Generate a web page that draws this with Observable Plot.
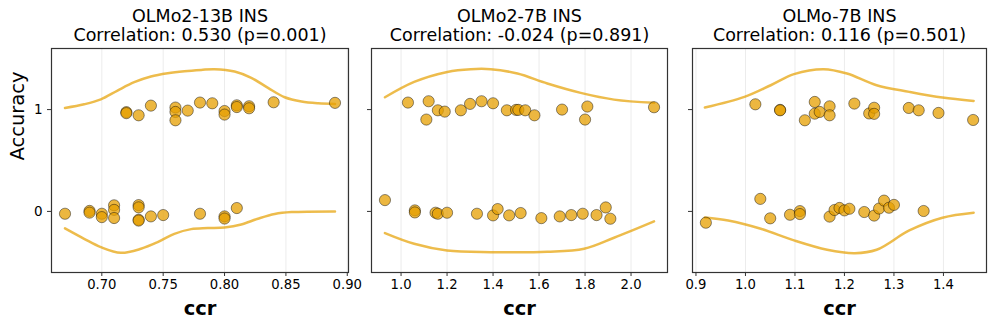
<!DOCTYPE html>
<html>
<head>
<meta charset="utf-8">
<script src="https://cdn.jsdelivr.net/npm/d3@7"></script>
<script src="https://cdn.jsdelivr.net/npm/@observablehq/plot@0.6"></script>
<style>
  body { margin: 0; background: #fff; }
  #chart { position: relative; width: 996px; height: 327px; }
  #chart svg { position: absolute; top: 0; }
</style>
</head>
<body>
<div id="chart"></div>
<script>
// ---------- Panel 1: OLMo2-13B INS ----------
const p1Title = ["OLMo2-13B INS", "Correlation: 0.530 (p=0.001)"];
const p1Ccr = [0.72,0.72,0.73,0.74,0.76,0.76,0.76,0.77,0.78,0.79,0.80,0.80,0.81,0.81,0.82,0.82,0.84,0.89,
               0.67,0.69,0.69,0.70,0.70,0.71,0.71,0.71,0.73,0.73,0.73,0.73,0.74,0.75,0.78,0.80,0.80,0.81];
const p1Acc = [0.975,0.965,0.944,1.039,1.02,0.977,0.895,0.99,1.069,1.062,0.986,0.951,1.042,1.025,1.033,1.013,1.072,1.066,
               -0.023,0.005,-0.012,-0.023,-0.056,0.060,0.015,-0.065,0.062,0.040,-0.082,-0.090,-0.049,-0.036,-0.023,-0.049,-0.070,0.033];
const p1UpperX = [0.67,0.6856,0.6992,0.7128,0.7264,0.740,0.7537,0.7673,0.781,0.7918,0.8082,0.8218,0.8354,0.849,0.8627,0.8763,0.89];
const p1UpperY = [1.016,1.052,1.10,1.187,1.269,1.325,1.357,1.377,1.390,1.397,1.374,1.312,1.213,1.121,1.079,1.062,1.056];
const p1LowerX = [0.67,0.6856,0.6992,0.7155,0.7319,0.7455,0.7591,0.7728,0.7864,0.80,0.8136,0.8272,0.8409,0.8545,0.89];
const p1LowerY = [-0.167,-0.269,-0.351,-0.407,-0.367,-0.302,-0.220,-0.174,-0.164,-0.157,-0.128,-0.072,-0.026,-0.007,0.0];
const p1XDomain = [0.659, 0.901];
const p1Ticks = [0.70,0.75,0.80,0.85,0.90];

// ---------- Panel 2: OLMo2-7B INS ----------
const p2Title = ["OLMo2-7B INS", "Correlation: -0.024 (p=0.891)"];
const p2Ccr = [1.03,1.12,1.11,1.16,1.19,1.26,1.30,1.35,1.40,1.46,1.50,1.51,1.54,1.58,1.70,1.81,1.80,2.10,
               0.93,1.06,1.06,1.15,1.16,1.20,1.33,1.40,1.42,1.47,1.52,1.61,1.69,1.74,1.79,1.85,1.89,1.91];
const p2Acc = [1.069,1.082,0.902,0.993,0.98,0.993,1.056,1.082,1.062,0.993,0.997,0.997,0.993,0.944,1.0,1.03,0.902,1.023,
               0.111,0.01,-0.01,-0.013,-0.023,-0.013,-0.023,-0.039,0.023,-0.039,-0.016,-0.066,-0.049,-0.036,-0.023,-0.036,0.039,-0.072];
const p2UpperX = [0.93,1.057,1.201,1.303,1.39,1.506,1.636,1.781,1.926,2.10];
const p2UpperY = [1.121,1.272,1.370,1.397,1.397,1.354,1.256,1.164,1.098,1.066];
const p2LowerX = [0.93,1.057,1.20,1.39,1.636,1.796,1.926,2.10];
const p2LowerY = [-0.213,-0.318,-0.384,-0.40,-0.397,-0.367,-0.259,-0.098];
const p2XDomain = [0.8715, 2.1585];
const p2Ticks = [1.0,1.2,1.4,1.6,1.8,2.0];

// ---------- Panel 3: OLMo-7B INS ----------
const p3Title = ["OLMo-7B INS", "Correlation: 0.116 (p=0.501)"];
const p3Ccr = [1.02,1.07,1.07,1.12,1.14,1.14,1.15,1.17,1.17,1.22,1.25,1.26,1.26,1.33,1.35,1.39,1.46,
               0.92,1.03,1.05,1.09,1.11,1.11,1.17,1.18,1.19,1.20,1.21,1.24,1.26,1.27,1.28,1.29,1.30,1.36];
const p3Acc = [1.052,0.997,0.993,0.895,1.075,0.96,0.977,1.032,0.944,1.059,0.962,1.018,0.958,1.016,0.993,0.967,0.898,
               -0.111,0.123,-0.068,-0.033,0.003,-0.026,-0.051,0.014,0.034,0.010,0.026,-0.006,-0.041,0.028,0.106,0.036,0.064,0.004];
const p3UpperX = [0.918,0.998,1.051,1.098,1.158,1.205,1.265,1.331,1.398,1.461];
const p3UpperY = [1.02,1.125,1.239,1.348,1.397,1.354,1.239,1.174,1.118,1.085];
const p3LowerX = [0.918,0.965,1.031,1.098,1.165,1.221,1.265,1.331,1.398,1.461];
const p3LowerY = [-0.059,-0.089,-0.170,-0.285,-0.377,-0.41,-0.377,-0.187,-0.062,-0.013];
const p3XDomain = [0.893, 1.487];
const p3Ticks = [0.9,1.0,1.1,1.2,1.3,1.4];

const yDomain = [-0.6, 1.6];
const yTicks = [0, 1];

const panels = [
  {title: p1Title, ccr: p1Ccr, acc: p1Acc, ux: p1UpperX, uy: p1UpperY, lx: p1LowerX, ly: p1LowerY,
   domain: p1XDomain, ticks: p1Ticks, fmt: ".2f", left: 0, width: 352, ml: 51, mr: 4, yLabels: true},
  {title: p2Title, ccr: p2Ccr, acc: p2Acc, ux: p2UpperX, uy: p2UpperY, lx: p2LowerX, ly: p2LowerY,
   domain: p2XDomain, ticks: p2Ticks, fmt: ".1f", left: 352, width: 320, ml: 19, mr: 5, yLabels: false},
  {title: p3Title, ccr: p3Ccr, acc: p3Acc, ux: p3UpperX, uy: p3UpperY, lx: p3LowerX, ly: p3LowerY,
   domain: p3XDomain, ticks: p3Ticks, fmt: ".1f", left: 672, width: 324, ml: 20, mr: 10, yLabels: false}
];

const orange = "#E69F00";
const container = document.getElementById("chart");

for (const p of panels) {
  const pts = p.ccr.map((c, i) => ({ccr: c, acc: p.acc[i]}));
  const upper = p.ux.map((x, i) => ({x, y: p.uy[i]}));
  const lower = p.lx.map((x, i) => ({x, y: p.ly[i]}));
  const fmt = d3.format(p.fmt);
  const marks = [
    Plot.gridX(p.ticks, {stroke: "#000", strokeOpacity: 0.1, strokeWidth: 0.8}),
    Plot.line(upper, {x: "x", y: "y", curve: "catmull-rom", stroke: orange, strokeOpacity: 0.7, strokeWidth: 2.5}),
    Plot.line(lower, {x: "x", y: "y", curve: "catmull-rom", stroke: orange, strokeOpacity: 0.7, strokeWidth: 2.5}),
    Plot.dot(pts, {x: "ccr", y: "acc", r: 5.6, fill: orange, fillOpacity: 0.75, stroke: "#000", strokeOpacity: 0.55, strokeWidth: 0.8}),
    Plot.frame({stroke: "#333", strokeWidth: 1.2}),
    Plot.axisX({ticks: p.ticks, tickFormat: fmt, tickSize: 4, tickPadding: 3, label: null, fontSize: 13.2, stroke: "#333", fill: "#000"}),
    Plot.axisY({ticks: yTicks, tickFormat: p.yLabels ? (d => String(d)) : (() => ""), tickSize: 4, tickPadding: 5, label: null, fontSize: 13.5, stroke: "#333", fill: "#000"}),
    Plot.text([p.title[0]], {frameAnchor: "top", lineAnchor: "middle", dy: -32, fontSize: 17.5, fill: "#000"}),
    Plot.text([p.title[1]], {frameAnchor: "top", lineAnchor: "middle", dy: -13, fontSize: 17.5, fill: "#000"}),
    Plot.text(["ccr"], {frameAnchor: "bottom", lineAnchor: "middle", dy: 36, fontSize: 19.5, fontWeight: "bold", fill: "#000"})
  ];
  if (p.yLabels) {
    marks.push(Plot.text(["Accuracy"], {frameAnchor: "left", lineAnchor: "middle", dx: -34, rotate: -90, fontSize: 19.5, fill: "#000"}));
  }
  const svg = Plot.plot({
    width: p.width,
    height: 327,
    marginTop: 48,
    marginBottom: 55,
    marginLeft: p.ml,
    marginRight: p.mr,
    style: {fontFamily: "DejaVu Sans", fontSize: "12.5px", background: "transparent", overflow: "visible"},
    x: {domain: p.domain},
    y: {domain: yDomain},
    marks
  });
  svg.style.left = p.left + "px";
  container.appendChild(svg);
}
</script>
</body>
</html>
